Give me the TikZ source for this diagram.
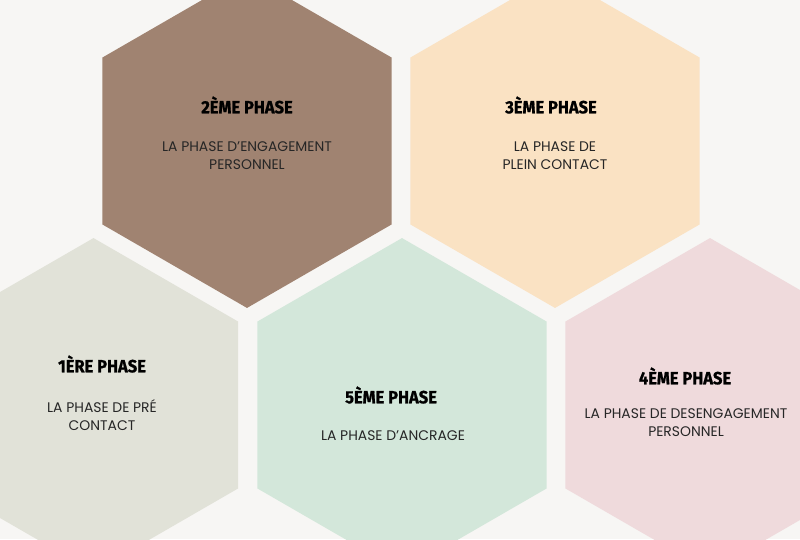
\documentclass[tikz,border=0pt]{standalone}
\usepackage{fontspec}
\setmainfont{Poppins}
\newfontfamily\titrefont{Fira Sans}[FakeStretch=0.93, FakeBold=1]
\usetikzlibrary{shapes.geometric}
\definecolor{fond}{RGB}{247,246,244}
\definecolor{brun}{RGB}{160,131,113}
\definecolor{peche}{RGB}{250,226,195}
\definecolor{sauge}{RGB}{225,226,216}
\definecolor{menthe}{RGB}{211,231,218}
\definecolor{rose}{RGB}{239,218,220}
\tikzset{alveole/.style={regular polygon, regular polygon sides=6, shape border rotate=30,
    minimum size=8.345cm, inner sep=0pt, outer sep=0pt}}
\tikzset{titre/.style={font=\titrefont\bfseries\fontsize{12.6}{15}\selectfont, text=black}}
\tikzset{texte/.style={font=\fontsize{9.9}{12.8}\selectfont, align=center, text=black!85}}

\begin{document}
\begin{tikzpicture}[x=0.025cm, y=-0.025cm]
    \fill[fond] (0,0) rectangle (800,539);
    \clip (0,0) rectangle (800,539);

    % rang du haut
    \node[alveole, fill=brun]   (h2) at (247,141) {};
    \node[alveole, fill=peche]  (h3) at (555,141) {};
    % rang du bas
    \node[alveole, fill=sauge]  (h1) at (93.5,405) {};
    \node[alveole, fill=menthe] (h5) at (402,405) {};
    \node[alveole, fill=rose]   (h4) at (710,405) {};

    \node[titre] (t2) at (247,105) {2ÈME PHASE};
    \node[texte] (d2) at (247,156) {LA PHASE D’ENGAGEMENT\\PERSONNEL};

    \node[titre] (t3) at (551,105) {3ÈME PHASE};
    \node[texte] (d3) at (555,156) {LA PHASE DE\\PLEIN CONTACT};

    \node[titre] (t1) at (102,364) {1ÈRE PHASE};
    \node[texte] (d1) at (102,415) {LA PHASE DE PRÉ\\CONTACT};

    \node[titre] (t5) at (391,395) {5ÈME PHASE};
    \node[texte] (d5) at (393,436) {LA PHASE D’ANCRAGE};

    \node[titre] (t4) at (685,376) {4ÈME PHASE};
    \node[texte] (d4) at (686,423) {LA PHASE DE DESENGAGEMENT\\PERSONNEL};
\end{tikzpicture}
\end{document}
